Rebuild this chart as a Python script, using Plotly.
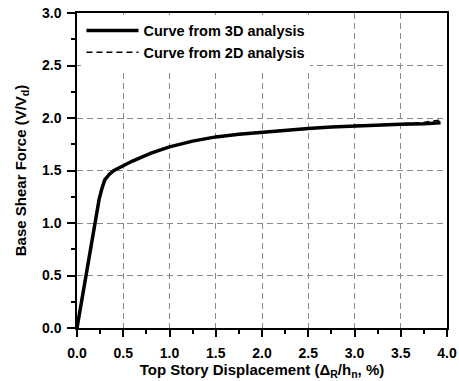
import plotly.graph_objects as go

# 3D analysis curve
x3d = [0, 0.05, 0.1, 0.15, 0.2, 0.24, 0.27, 0.3, 0.35, 0.4, 0.5, 0.6, 0.8, 1.0,
       1.25, 1.5, 1.75, 2.0, 2.25, 2.5, 2.75, 3.0, 3.25, 3.5, 3.75, 3.93]
y3d = [0, 0.26, 0.52, 0.78, 1.03, 1.23, 1.33, 1.41, 1.465, 1.50, 1.545, 1.59, 1.665, 1.725,
       1.78, 1.82, 1.845, 1.865, 1.885, 1.90, 1.915, 1.925, 1.93, 1.94, 1.945, 1.955]

# 2D analysis curve
x2d = [0, 0.05, 0.1, 0.15, 0.2, 0.24, 0.27, 0.3, 0.35, 0.4, 0.5, 0.6, 0.8, 1.0,
       1.25, 1.5, 1.75, 2.0, 2.25, 2.5, 2.75, 3.0, 3.25, 3.5, 3.75, 3.96]
y2d = [0, 0.26, 0.52, 0.78, 1.03, 1.23, 1.33, 1.41, 1.465, 1.50, 1.545, 1.59, 1.665, 1.725,
       1.78, 1.82, 1.845, 1.865, 1.885, 1.90, 1.917, 1.93, 1.935, 1.947, 1.958, 1.985]

x_ticks = [0.0, 0.5, 1.0, 1.5, 2.0, 2.5, 3.0, 3.5, 4.0]
y_ticks = [0.0, 0.5, 1.0, 1.5, 2.0, 2.5, 3.0]

font_family = "Liberation Sans, Arial, sans-serif"

fig = go.Figure()
fig.add_trace(go.Scatter(x=x3d, y=y3d, mode="lines", name="<b>Curve from 3D analysis</b>",
                         line=dict(color="black", width=3.5)))
fig.add_trace(go.Scatter(x=x2d, y=y2d, mode="lines", name="<b>Curve from 2D analysis</b>",
                         line=dict(color="black", width=1.5, dash="6px,4px")))

axis_common = dict(
    showline=True, linecolor="black", linewidth=1.5, mirror=True,
    ticks="outside", tickwidth=1.5, tickcolor="black",
    showgrid=True, gridcolor="#8a8a8a", griddash="6px,4px", gridwidth=1,
    zeroline=False, automargin=False,
    tickfont=dict(family=font_family, size=14, color="black", weight="bold"),
    minor=dict(ticks="outside", ticklen=4, tickwidth=1.5, tickcolor="black", showgrid=False),
)

fig.update_xaxes(range=[0, 4.0], tickvals=x_ticks, ticktext=[f"{v:.1f}" for v in x_ticks],
                 minor_dtick=0.25, minor_tick0=0, ticklen=7, ticklabelstandoff=4,
                 title=dict(text="<b>Top Story Displacement (Δ<sub>R</sub>/h<sub>n</sub>, %)</b>",
                            font=dict(family=font_family, size=15, color="black"), standoff=5),
                 **axis_common)
fig.update_yaxes(range=[0, 3.0], tickvals=y_ticks, ticktext=[f"{v:.1f}" for v in y_ticks],
                 minor_dtick=0.25, minor_tick0=0, ticklen=8, ticklabelstandoff=3,
                 title=dict(text="<b>Base Shear Force (V/V<sub>d</sub>)</b>",
                            font=dict(family=font_family, size=15, color="black"), standoff=12),
                 **axis_common)

fig.update_layout(
    width=459, height=381,
    margin=dict(l=77, r=12, t=13, b=53),
    plot_bgcolor="white", paper_bgcolor="white",
    showlegend=True,
    legend=dict(x=0.012, y=0.995, xanchor="left", yanchor="top",
                bgcolor="white", borderwidth=0, itemwidth=52,
                font=dict(family=font_family, size=14.5, color="black"),
                tracegroupgap=0),
)

fig.write_html("out.html")
